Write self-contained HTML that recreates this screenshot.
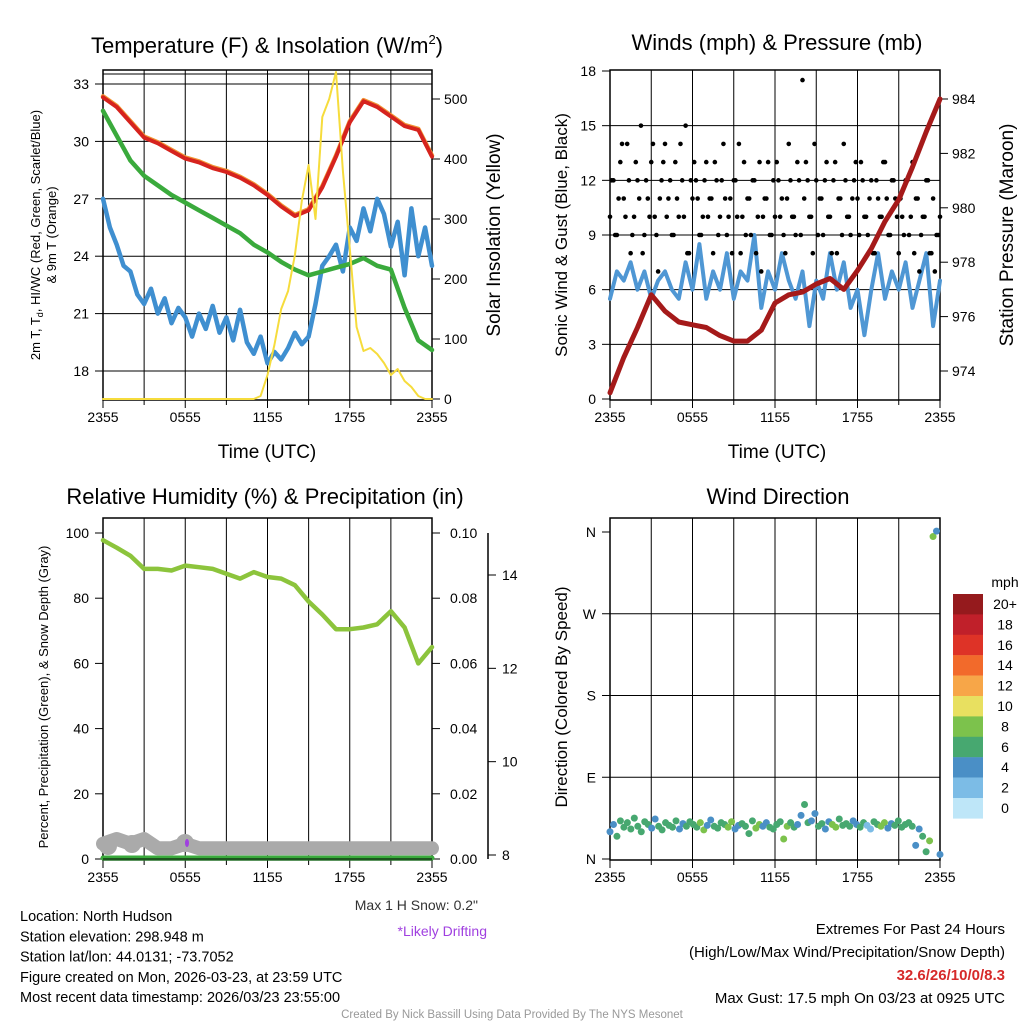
<!DOCTYPE html>
<html><head><meta charset="utf-8"><style>
body{margin:0;background:#fff;}
svg{display:block;font-family:"Liberation Sans",Arial,sans-serif;}
</style></head><body>
<svg id="c" width="1024" height="1024" viewBox="0 0 1024 1024"></svg>
<script>
// ---- data ----
const hoursHourly=[0,1,2,3,4,5,6,7,8,9,10,11,12,13,14,15,16,17,18,19,20,21,22,23,24];
const tempRed=[32.3,31.8,31.0,30.2,29.9,29.5,29.1,28.9,28.6,28.4,28.1,27.7,27.2,26.6,26.1,26.4,27.6,29.2,31.0,32.1,31.8,31.3,30.8,30.6,29.2];
const tempGreen=[31.6,30.3,29.0,28.2,27.7,27.2,26.8,26.4,26.0,25.6,25.2,24.6,24.2,23.7,23.3,23.0,23.2,23.4,23.6,23.9,23.5,23.3,21.3,19.6,19.1];
const tempBlue=[27.0,25.5,24.6,23.5,23.2,22.0,21.5,22.3,21.0,21.8,20.5,21.3,20.8,19.8,21.0,20.2,21.4,20.0,20.8,19.6,21.2,19.5,18.9,19.8,18.4,19.0,18.6,19.2,20.0,19.4,19.8,21.5,23.5,24.0,24.6,23.2,25.5,24.8,26.5,25.3,27.0,26.2,24.5,25.8,23.0,26.5,24.0,25.5,23.5];
const insolation=[0,0,0,0,0,0,0,0,0,0,0,0,0,0,0,0,0,0,0,0,0,0,0,5,40,90,150,180,240,330,390,300,470,500,545,380,250,120,80,85,75,60,40,50,30,20,5,0,0];
const windSpeed=[5.5,7,6.5,7.5,6,7,5.5,6.5,7,6,5.5,7.5,6,8.5,5.5,7,6,8,5.5,7,6.5,9,5,7,6,8,6.5,5.5,7,4,6.5,5.5,8,6,7.5,5,6,3.5,6,8,5.5,7,6,7.5,5,6.5,8,4,6.5];
const windGust=[10,12,9,13,11,14,8,10,12,15,9,11,13,10,7,12,14,11,9,13,10,12,15,8,11,12,9,10,13,11,8,12,10,14,9,11,12,10,8,13,11,9,12,10,7,11,13,9,10,12,11,8,14,10,9,12,17.5,13,10,8,12,11,9,13,10,12,8,11,14,10,9,12,11,13,10,9,12,8,11,10,13,9,12,11,8,10,12,9,13,11,7,10,12,8,11,9,10];
const windGust2=[12,9,11,14,10,12,9,13,11,8,12,10,14,9,11,13,10,12,9,11,14,10,8,12,13,11,9,12,10,11,13,9,12,11,10,8,12,14,10,9,11,12,8,13,10,11,9,12,13,10,9,11,12,10,13,9,11,12,10,14,9,11,12,10,8,13,11,9,12,10,11,13,9,12,10,11,8,12,10,13,11,9,12,10,11,9,12,10,8,11,9,10,12,8,7,9];
const pressure=[973.2,974.5,975.6,976.8,976.2,975.8,975.7,975.6,975.3,975.1,975.1,975.5,976.5,976.8,976.9,977.2,977.4,977.0,977.7,978.5,979.5,980.3,981.5,982.8,984.0];
const relHum=[97.8,95.5,93,89,89,88.5,90,89.5,89,87.5,86,88,86.5,86,84,79,75,70.5,70.5,71,72,76,71,60,65];
const precip=[0,0,0,0,0,0,0,0,0,0,0,0,0,0,0,0,0,0,0,0,0,0,0,0,0];
const snowDepth=[8.2,8.3,8.2,8.3,8.1,8.1,8.2,8.1,8.1,8.1,8.1,8.1,8.1,8.1,8.1,8.1,8.1,8.1,8.1,8.1,8.1,8.1,8.1,8.1,8.1];
const windDir=[30,38,25,42,35,40,33,45,36,30,41,38,34,44,36,32,40,37,35,42,33,39,36,41,38,35,40,32,37,43,36,34,40,38,35,41,33,37,39,36,28,42,34,38,36,40,35,33,38,41,22,36,40,35,38,48,60,40,42,50,36,39,33,41,38,35,44,37,39,36,42,38,35,40,37,33,41,38,36,40,34,39,37,42,35,38,40,36,15,33,25,8,20,355,362,5];
const xTicks=["2355","0555","1155","1755","2355"];
const cbLabels=["20+","18","16","14","12","10","8","6","4","2","0"];
const cbColors=["#951a1d","#c0202a","#de3327","#f26a2b","#f7a648","#e8e060","#7cc24c","#47a870","#4a8fc6","#7cbce6","#bee6f8"];

// ---- helpers ----
const S=document.getElementById('c');const NS='http://www.w3.org/2000/svg';
function mk(tag,at,name){const e=document.createElementNS(NS,tag);for(const k in at)e.setAttribute(k,at[k]);


S.appendChild(e);return e;}
function tx(x,y,s,size,name,anchor,extra){const e=mk('text',Object.assign({x:x,y:y,'font-size':size,'text-anchor':anchor||'middle',fill:'#000'},extra||{}),name);e.textContent=s;return e;}
function lin(x1,y1,x2,y2,w,name,col){return mk('line',{x1,y1,x2,y2,stroke:col||'#000','stroke-width':w},name);}
function path(pts,col,w,name){return mk('path',{d:'M'+pts.map(p=>p[0].toFixed(1)+','+p[1].toFixed(1)).join('L'),fill:'none',stroke:col,'stroke-width':w,'stroke-linejoin':'round','stroke-linecap':'round'},name);}
function scale(d0,d1,r0,r1){return v=>r0+(v-d0)/(d1-d0)*(r1-r0);}

function frame(L,R,T,B,pre){
  for(let i=1;i<8;i++){const x=L+(R-L)*i/8;lin(x,T,x,B,1,pre+'-vgrid');}
  mk('rect',{x:L,y:T,width:R-L,height:B-T,fill:'none',stroke:'#000','stroke-width':1.5},pre+'-frame');
  xTicks.forEach((s,i)=>{const x=L+(R-L)*i/4;lin(x,B,x,B+8,1,pre+'-xtick');tx(x,B+22,s,14,pre+'-xtick-label');});
  for(let i=1;i<8;i+=2){const x=L+(R-L)*i/8;lin(x,B,x,B+5,1,pre+'-xtick-minor');}
}

// ---- Panel 1 ----
{const L=103,R=432,T=70,B=400;const tx0=scale(0,24,L,R);const ty=scale(18,33,371,84);const iy=scale(0,500,399,99);
frame(L,R,T,B,'temp');
[18,21,24,27,30,33].forEach(v=>{lin(L,ty(v),R,ty(v),1,'temp-hgrid');lin(L-8,ty(v),L,ty(v),1,'temp-ytick');tx(L-14,ty(v)+5,v,14,'temp-ytick-label','end');});
lin(L,74,R,74,1,'temp-top-line');
[0,100,200,300,400,500].forEach(v=>{lin(R,iy(v),R+8,iy(v),1,'insol-ytick');tx(R+12,iy(v)+5,v,14,'insol-ytick-label','start');});
const tb=tempBlue.map((v,i)=>[tx0(i/2),ty(v)]);path(tb,'#3f8fd0',4.5,'hi-wc-line');
path(tempGreen.map((v,i)=>[tx0(hoursHourly[i]),ty(v)]),'#3aaa3c',4.5,'dewpoint-line');
path(tempRed.map((v,i)=>[tx0(hoursHourly[i]),ty(v)-1]),'#f19433',4.5,'temp-9m-line');
path(tempRed.map((v,i)=>[tx0(hoursHourly[i]),ty(v)]),'#d6231e',4,'temp-2m-line');
path(insolation.map((v,i)=>[tx0(i/2),Math.max(72,iy(v))]),'#f6dc3c',2,'insolation-line');
const tt=mk('text',{x:267,y:53,'font-size':22,'text-anchor':'middle'},'temp-title');
tt.innerHTML='Temperature (F) &amp; Insolation (W/m<tspan dy="-9" font-size="13">2</tspan><tspan dy="9">)</tspan>';
const a=mk('text',{transform:'translate(40,235) rotate(-90)','font-size':13,'text-anchor':'middle'},'temp-y-title');a.innerHTML='2m T, T<tspan dy="3" font-size="9">d</tspan><tspan dy="-3">, HI/WC (Red, Green, Scarlet/Blue)</tspan>';
tx(0,0,'& 9m T (Orange)',13,'temp-y-title-2','middle',{transform:'translate(56,235) rotate(-90)'});
tx(0,0,'Solar Insolation (Yellow)',19,'insol-y-title','middle',{transform:'translate(500,235) rotate(-90)'});
tx(267,458,'Time (UTC)',19,'temp-x-title');}

// ---- Panel 2 ----
{const L=610,R=940,T=70,B=400;const tx0=scale(0,24,L,R);const wy=scale(0,18,399,71);const py=scale(974,984,371,99);
frame(L,R,T,B,'wind');
[0,3,6,9,12,15,18].forEach(v=>{if(v>0&&v<18)lin(L,wy(v),R,wy(v),1,'wind-hgrid');lin(L-8,wy(v),L,wy(v),1,'wind-ytick');tx(L-14,wy(v)+5,v,14,'wind-ytick-label','end');});
[974,976,978,980,982,984].forEach(v=>{lin(R,py(v),R+8,py(v),1,'pres-ytick');tx(R+12,py(v)+5,v,14,'pres-ytick-label','start');});
path(windSpeed.map((v,i)=>[tx0(i/2),wy(v)]),'#4f97d4',4,'wind-speed-line');
windGust.forEach((v,i)=>{mk('circle',{cx:tx0(i*24/(windGust.length-1)),cy:wy(v),r:2.3,fill:'#000'},'gust-point');});
windGust2.forEach((v,i)=>{mk('circle',{cx:tx0((i+0.5)*24/windGust2.length),cy:wy(v),r:2.3,fill:'#000'},'gust-point');});
path(pressure.map((v,i)=>[tx0(hoursHourly[i]),py(v)]),'#a51a1a',5,'pressure-line');
tx(777,50,'Winds (mph) & Pressure (mb)',22,'wind-title');
tx(0,0,'Sonic Wind & Gust (Blue, Black)',17,'wind-y-title','middle',{transform:'translate(567,235) rotate(-90)'});
tx(0,0,'Station Pressure (Maroon)',19,'pres-y-title','middle',{transform:'translate(1013,235) rotate(-90)'});
tx(777,458,'Time (UTC)',19,'wind-x-title');}

// ---- Panel 3 ----
{const L=103,R=432,T=518,B=860;const tx0=scale(0,24,L,R);const ry=scale(0,100,859,533);const sy=scale(8,14,855,575);
frame(L,R,T,B,'rh');
[0,20,40,60,80,100].forEach(v=>{lin(L-8,ry(v),L,ry(v),1,'rh-ytick');tx(L-14,ry(v)+5,v,14,'rh-ytick-label','end');});
['0.00','0.02','0.04','0.06','0.08','0.10'].forEach((s,i)=>{const y=ry(i*20);lin(R,y,R+8,y,1,'precip-ytick');tx(R+18,y+5,s,14,'precip-ytick-label','start');});
lin(488,533,488,859,1.5,'snow-axis');
[8,10,12,14].forEach(v=>{lin(488,sy(v),496,sy(v),1,'snow-ytick');tx(502,sy(v)+5,v,14,'snow-ytick-label','start');});
path(snowDepth.map((v,i)=>[tx0(hoursHourly[i]),sy(v)-2]),'#aaaaaa',14,'snow-depth-line');
[[108,846],[132,844],[185,843]].forEach(p=>mk('circle',{cx:p[0],cy:p[1],r:9,fill:'#aaa'},'snow-bump'));
path(precip.map((v,i)=>[tx0(hoursHourly[i]),ry(v*1000)-1]),'#3aaa3c',5,'precip-line');
lin(L,859,R,859,1,'rh-zero-line');
path(relHum.map((v,i)=>[tx0(hoursHourly[i]),ry(v)]),'#8cc43c',4.5,'rh-line');
mk('ellipse',{cx:187,cy:843,rx:2,ry:4,fill:'#a040e0'},'drifting-marker');
tx(265,504,'Relative Humidity (%) & Precipitation (in)',22,'rh-title');
tx(0,0,'Percent, Precipitation (Green), & Snow Depth (Gray)',13,'rh-y-title','middle',{transform:'translate(48,697) rotate(-90)'});
tx(478,910,'Max 1 H Snow: 0.2"',14,'max-snow-label','end',{fill:'#333'});
tx(487,936,'*Likely Drifting',14,'drifting-label','end',{fill:'#a040e0'});}

// ---- Panel 4 ----
{const L=610,R=940,T=518,B=860;const tx0=scale(0,24,L,R);const dy=scale(0,360,859,532);
frame(L,R,T,B,'dir');
[['N',0],['E',90],['S',180],['W',270],['N',360]].forEach(d=>{const y=dy(d[1]);if(d[1]>0&&d[1]<360)lin(L,y,R,y,1,'dir-hgrid');lin(L-8,y,L,y,1,'dir-ytick');tx(L-14,y+5,d[0],14,'dir-ytick-label','end');});
function col(s){const b=Math.min(10,Math.floor(s/2));return cbColors[10-b];}
windDir.forEach((v,i)=>{const s=windSpeed[Math.min(48,Math.floor(i/2))];mk('circle',{cx:tx0(i*24/(windDir.length-1)),cy:dy(Math.min(v,361)),r:3.5,fill:col(s)},'dir-point');});
tx(778,504,'Wind Direction',22,'dir-title');
tx(0,0,'Direction (Colored By Speed)',17,'dir-y-title','middle',{transform:'translate(567,697) rotate(-90)'});
tx(1005,587,'mph',14,'colorbar-title','middle');
cbColors.forEach((c,i)=>{mk('rect',{x:953,y:594+i*20.4,width:30,height:20.6,fill:c},'colorbar-box');tx(1005,609+i*20.4,cbLabels[i],14,'colorbar-label','middle');});}

// ---- footer ----
['Location: North Hudson','Station elevation: 298.948 m','Station lat/lon: 44.0131; -73.7052','Figure created on Mon, 2026-03-23, at 23:59 UTC','Most recent data timestamp: 2026/03/23 23:55:00'].forEach((s,i)=>tx(20,921+i*20.3,s,14.5,'station-info-line','start'));
tx(1005,934,'Extremes For Past 24 Hours',15,'extremes-title','end');
tx(1005,957,'(High/Low/Max Wind/Precipitation/Snow Depth)',15,'extremes-subtitle','end');
tx(1005,980,'32.6/26/10/0/8.3',15,'extremes-values','end',{fill:'#d62a2a','font-weight':'bold'});
tx(1005,1003,'Max Gust: 17.5 mph On 03/23 at 0925 UTC',15,'max-gust','end');
tx(512,1018,'Created By Nick Bassill Using Data Provided By The NYS Mesonet',11.5,'credits','middle',{fill:'#999'});
</script>
</body></html>
